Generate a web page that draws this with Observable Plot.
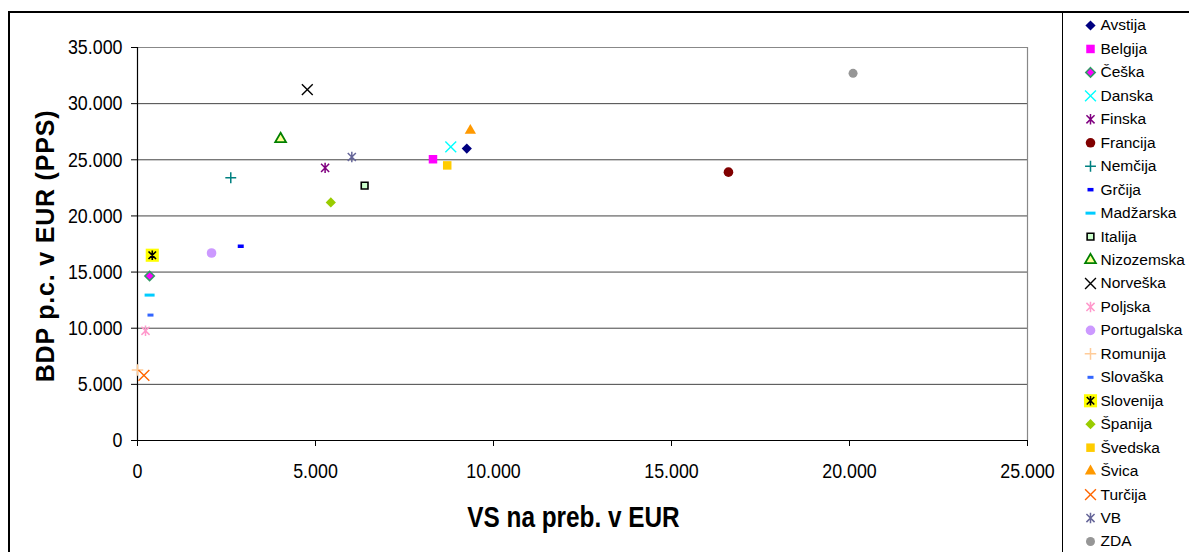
<!DOCTYPE html>
<html>
<head>
<meta charset="utf-8">
<script src="https://cdn.jsdelivr.net/npm/d3@7"></script>
<script src="https://cdn.jsdelivr.net/npm/@observablehq/plot@0.6"></script>
<style>
  html, body { margin: 0; padding: 0; background: #fff; }
  body { width: 1189px; height: 552px; overflow: hidden; position: relative; font-family: "Liberation Sans", Arial, sans-serif; }
  #frame { position: absolute; left: 8px; top: 11px; width: 1300px; height: 700px; border-top: 2px solid #000; border-left: 2px solid #000; }
  #divider { position: absolute; left: 1062px; top: 11px; width: 1px; height: 700px; background: #000; }
  #chart { position: absolute; left: 0; top: 0; width: 1062px; height: 552px; }
  #legend { position: absolute; left: 1063px; top: 0; width: 126px; height: 552px; }
</style>
</head>
<body>
<div id="frame"></div>
<div id="divider"></div>
<div id="chart"></div>
<div id="legend"></div>
<script>
// ---- data ----
const countries = ["Avstija","Belgija","Češka","Danska","Finska","Francija","Nemčija","Grčija","Madžarska","Italija","Nizozemska","Norveška","Poljska","Portugalska","Romunija","Slovaška","Slovenija","Španija","Švedska","Švica","Turčija","VB","ZDA"];
const vsPerCapita = [9250, 8300, 340, 8800, 5270, 16600, 2620, 2900, 340, 6380, 4020, 4770, 225, 2080, 0, 365, 415, 5430, 8700, 9350, 180, 6020, 20100];
const gdpPerCapitaPPS = [26000, 25050, 14650, 26150, 24280, 23900, 23400, 17300, 12950, 22700, 26850, 31250, 9770, 16700, 6280, 11170, 16500, 21200, 24500, 27600, 5800, 25250, 32700];
const xTicks = [0, 5000, 10000, 15000, 20000, 25000];
const yTicks = [0, 5000, 10000, 15000, 20000, 25000, 30000, 35000];
const xTitle = "VS na preb. v EUR";
const yTitle = "BDP p.c. v EUR (PPS)";

// ---- custom symbols ----
const star = { draw(ctx, size) { const r = Math.sqrt(size / Math.PI); const d = r * 0.78;
  ctx.moveTo(0, -r); ctx.lineTo(0, r); ctx.moveTo(-d, -d); ctx.lineTo(d, d); ctx.moveTo(-d, d); ctx.lineTo(d, -d); } };
const dash = (w, h) => ({ draw(ctx) { ctx.rect(-w / 2, -h / 2, w, h); } });

// ---- marker styles (per country) ----
const markerStyles = [
  {symbol: "diamond2", fill: "#000080", stroke: "none", r: 4.6},
  {symbol: "square", fill: "#FF00FF", stroke: "none", r: 4.8},
  {symbol: "diamond2", fill: "#FF00FF", stroke: "#339966", strokeWidth: 1.6, r: 4.2},
  {symbol: "times", fill: "none", stroke: "#00FFFF", strokeWidth: 1.4, r: 5},
  {symbol: star, fill: "none", stroke: "#800080", strokeWidth: 1.5, r: 5.2},
  {symbol: "circle", fill: "#800000", stroke: "none", r: 4.8},
  {symbol: "plus", fill: "none", stroke: "#008080", strokeWidth: 1.5, r: 3.6},
  {symbol: dash(6, 3.5), fill: "#0000FF", stroke: "none", r: 4},
  {symbol: dash(10, 3), fill: "#00CCFF", stroke: "none", r: 4},
  {symbol: "square", fill: "#CCFFCC", stroke: "#000000", strokeWidth: 1.6, r: 3.8},
  {symbol: "triangle", fill: "#FFFF99", stroke: "#008000", strokeWidth: 1.8, r: 4},
  {symbol: "times", fill: "none", stroke: "#000000", strokeWidth: 1.4, r: 5},
  {symbol: star, fill: "none", stroke: "#FF99CC", strokeWidth: 1.5, r: 5.2},
  {symbol: "circle", fill: "#CC99FF", stroke: "none", r: 4.8},
  {symbol: "plus", fill: "none", stroke: "#FFCC99", strokeWidth: 1.5, r: 3.8},
  {symbol: dash(6, 3), fill: "#3366FF", stroke: "none", r: 4},
  {symbol: star, fill: "none", stroke: "#000000", strokeWidth: 1.6, r: 4.8, bg: "#FFFF00"},
  {symbol: "diamond2", fill: "#99CC00", stroke: "none", r: 4.6},
  {symbol: "square", fill: "#FFCC00", stroke: "none", r: 4.8},
  {symbol: "triangle", fill: "#FF9900", stroke: "none", r: 4.2},
  {symbol: "times", fill: "none", stroke: "#FF6600", strokeWidth: 1.4, r: 5},
  {symbol: star, fill: "none", stroke: "#666699", strokeWidth: 1.5, r: 5.2},
  {symbol: "circle", fill: "#969696", stroke: "none", r: 4.5}
];

const rows = countries.map((name, i) => ({name, x: vsPerCapita[i], y: gdpPerCapitaPPS[i], i}));
const fmt = d3.formatLocale({decimal: ",", thousands: ".", grouping: [3], currency: ["", "€"]}).format(",");

function markFor(data, base, s) {
  const marks = [];
  if (s.bg) marks.push(Plot.dot(data, {...base, symbol: "square", fill: s.bg, stroke: "none", r: 7.4}));
  marks.push(Plot.dot(data, {...base, symbol: s.symbol, fill: s.fill, stroke: s.stroke, strokeWidth: s.strokeWidth || 1, r: s.r}));
  return marks;
}

// horizontally condense a text (as in the reference), keeping its anchor point fixed
function squeeze(t, k) {
  const x = +t.getAttribute("x") || 0, y = +t.getAttribute("y") || 0;
  const tr = t.getAttribute("transform") || "";
  t.setAttribute("transform", `${tr} translate(${x},${y}) scale(${k},1) translate(${-x},${-y})`);
}

const baseFont = "'Liberation Sans', Arial, sans-serif";

const chart = Plot.plot({
  width: 1062,
  height: 552,
  marginLeft: 137,
  marginRight: 35,
  marginTop: 47,
  marginBottom: 112,
  style: {fontFamily: baseFont, fontSize: "21px", color: "#000", background: "transparent", overflow: "visible"},
  x: {domain: [0, 25000], axis: null},
  y: {domain: [0, 35000], axis: null},
  marks: [
    Plot.ruleY(yTicks.filter(d => d > 0), {stroke: "#444", strokeWidth: 1}),
    Plot.ruleY([35000], {stroke: "#888", strokeWidth: 1.2}),
    Plot.ruleX([25000], {stroke: "#888", strokeWidth: 1.2}),
    Plot.ruleX([0], {stroke: "#000", strokeWidth: 1.2}),
    Plot.ruleY([0], {stroke: "#000", strokeWidth: 1.2}),
    Plot.axisY({ticks: yTicks, tickFormat: fmt, tickSize: 6, tickPadding: 9, label: null, fontFamily: baseFont, fontSize: 21}),
    Plot.axisX({ticks: xTicks, tickFormat: fmt, tickSize: 6, tickPadding: 17, label: null, fontFamily: baseFont, fontSize: 21}),
    Plot.text([yTitle], {frameAnchor: "left", dx: -92, dy: 2, rotate: -90, textAnchor: "middle", fontWeight: "bold", fontSize: 25,
      fontFamily: baseFont, text: d => d, fill: "#000"}),
    Plot.text([xTitle], {frameAnchor: "bottom", dx: -9, dy: 86, textAnchor: "middle", fontWeight: "bold", fontSize: 29,
      fontFamily: baseFont, text: d => d, fill: "#000"}),
    ...rows.flatMap(r => markFor([r], {x: "x", y: "y"}, markerStyles[r.i]))
  ]
});
const tickLabels = new Set([...xTicks, ...yTicks].map(fmt));
chart.querySelectorAll("text").forEach(t => {
  const s = t.textContent;
  if (s === yTitle) t.setAttribute("letter-spacing", "0.8px");
  else if (s === xTitle) squeeze(t, 0.84);
  else if (tickLabels.has(s)) squeeze(t, 0.85);
});
document.getElementById("chart").append(chart);

const legend = Plot.plot({
  width: 126,
  height: 552,
  marginLeft: 0,
  marginRight: 0,
  marginTop: 0,
  marginBottom: 0,
  style: {fontFamily: baseFont, fontSize: "15px", color: "#000", background: "transparent", overflow: "visible"},
  y: {type: "point", domain: countries, range: [25, 541], padding: 0, round: false, axis: null},
  marks: [
    ...rows.flatMap(r => markFor([r], {y: "name", frameAnchor: "left", dx: 27}, markerStyles[r.i])),
    Plot.text(rows, {y: "name", text: "name", frameAnchor: "left", dx: 37, textAnchor: "start", fontSize: 15.5, fill: "#000"})
  ]
});
document.getElementById("legend").append(legend);
</script>
</body>
</html>
